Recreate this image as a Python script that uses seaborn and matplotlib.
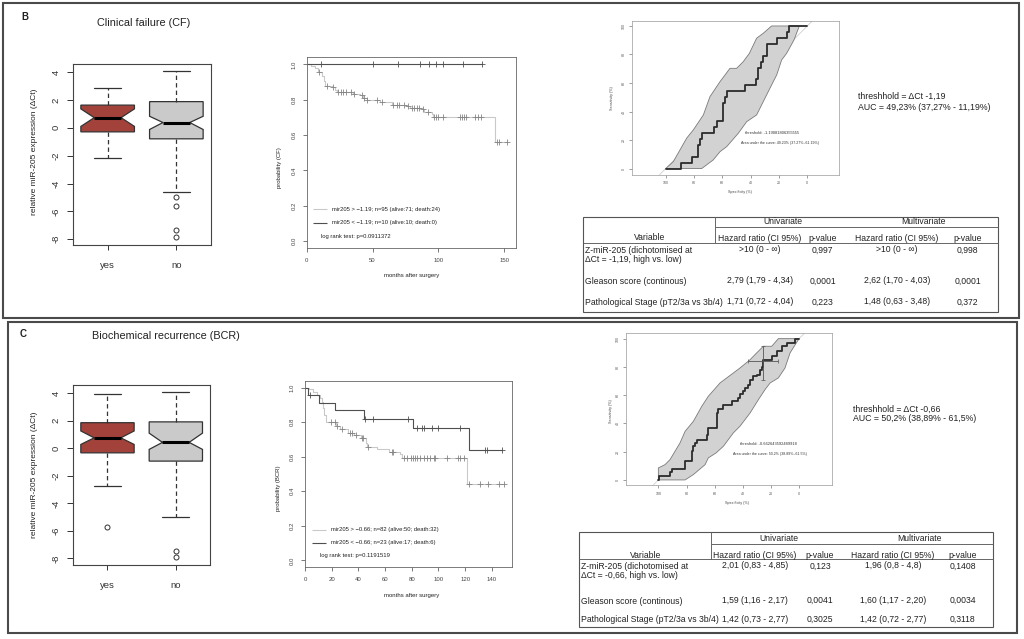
import numpy as np
import pandas as pd
import matplotlib
matplotlib.use("Agg")
import matplotlib.pyplot as plt
from matplotlib.patches import Rectangle
import seaborn as sns

# ---------------- data ----------------
box_labels = ["yes", "no"]
box_colors = ["#a3423b", "#cacaca"]

# Clinical failure boxplot statistics (relative miR-205 expression, dCt)
cf_med = [0.73, 0.38]
cf_q1 = [-0.29, -0.79]
cf_q3 = [1.63, 1.88]
cf_whislo = [-2.14, -4.60]
cf_whishi = [2.83, 4.05]
cf_cilo = [0.10, -0.12]
cf_cihi = [1.36, 0.83]
cf_fliers = [[], [-4.93, -5.62, -7.33, -7.86]]

# Biochemical recurrence boxplot statistics
bcr_med = [0.76, 0.43]
bcr_q1 = [-0.33, -0.93]
bcr_q3 = [1.86, 1.92]
bcr_whislo = [-2.72, -5.00]
bcr_whishi = [3.97, 4.07]
bcr_cilo = [0.28, -0.08]
bcr_cihi = [1.26, 1.10]
bcr_fliers = [[-5.70], [-7.43, -7.90]]

# Kaplan-Meier, clinical failure
kmb_hi_t = [0, 3.1, 6.2, 8.3, 11.4, 12.9, 13.9, 19.0, 21.5, 22.8, 34.9, 40.5, 43.1, 45.6, 55.7,
            64.6, 75.9, 78.5, 87.4, 89.4, 94.9, 96.2, 143.3]
kmb_hi_s = [1.0, 0.99, 0.977, 0.956, 0.935, 0.905, 0.88, 0.87, 0.855, 0.843, 0.833, 0.825,
            0.812, 0.80, 0.787, 0.773, 0.762, 0.755, 0.745, 0.733, 0.72, 0.705, 0.56]
kmb_hi_end = 152.4
kmb_hi_cens = [9.1, 15.2, 19.7, 24.1, 26.0, 27.9, 29.9, 33.5, 35.9, 41.7, 43.8, 46.1, 53.2,
               56.9, 65.8, 68.4, 70.3, 74.0, 77.3, 79.7, 81.5, 83.6, 85.5, 88.1, 92.5, 96.7,
               98.0, 100.0, 103.8, 116.4, 117.8, 119.5, 121.1, 127.9, 130.4, 132.2, 144.3,
               146.4, 152.4]
kmb_lo_t = [0]
kmb_lo_s = [1.0]
kmb_lo_end = 132.9
kmb_lo_cens = [10.6, 50.1, 69.1, 85.8, 93.2, 98.0, 103.3, 119.0, 132.9]

# Kaplan-Meier, biochemical recurrence
kmc_hi_t = [0, 3, 6, 9, 11, 12.5, 13.5, 14.5, 16, 23, 26, 32, 37, 42, 46, 46.5, 54, 63, 71,
            72.5, 121]
kmc_hi_s = [1.0, 0.99, 0.975, 0.96, 0.94, 0.915, 0.88, 0.84, 0.80, 0.777, 0.762, 0.74, 0.725,
            0.71, 0.68, 0.658, 0.646, 0.627, 0.613, 0.59, 0.443]
kmc_hi_end = 149.0
kmc_hi_cens = [19.5, 22.5, 23.8, 27.5, 33.8, 35.0, 38.0, 42.5, 43.8, 47.5, 65.0, 66.3, 73.8,
               76.3, 79.3, 80.8, 82.5, 83.8, 85.8, 88.8, 91.3, 93.8, 96.3, 97.5, 106.3, 114.3,
               116.3, 119.3, 122.5, 131.3, 137.0, 145.5, 149.0]
kmc_lo_t = [0, 2.5, 10.5, 22.5, 44, 80.7, 123]
kmc_lo_s = [1.0, 0.957, 0.913, 0.87, 0.82, 0.768, 0.64]
kmc_lo_end = 147.5
kmc_lo_cens = [4.0, 45.0, 51.3, 77.5, 83.8, 88.0, 88.8, 95.0, 100.0, 116.3, 135.0, 136.3, 147.5]

# ROC, clinical failure (specificity / sensitivity, %)
rocb_spec = [100, 89.4, 81.6, 77.0, 75.8, 74.6, 65.9, 64.0, 59.3, 58.1, 56.5, 44.0, 36.2, 34.6,
             32.9, 31.0, 28.7, 21.6, 14.6, 12.7, 0]
rocb_sens = [0, 4.2, 8.3, 16.7, 20.8, 25.0, 29.2, 33.3, 45.8, 50.0, 54.2, 58.3, 62.5, 70.8,
             75.0, 79.2, 87.5, 91.7, 95.8, 100, 100]
rocb_up_spec = [100, 94.6, 85.2, 80.5, 73.4, 68.7, 61.6, 54.6, 49.9, 45.2, 40.9, 35.8, 31.1, 25.2, 5.6]
rocb_up_sens = [0, 4.9, 21.3, 27.1, 37.6, 50.5, 61.0, 70.3, 70.3, 75.0, 80.8, 91.4, 94.9, 100, 100]
rocb_lo_spec = [5.6, 9.4, 14.6, 18.1, 21.6, 26.4, 35.8, 42.8, 48.7, 56.9, 61.6, 66.4, 74.6, 100]
rocb_lo_sens = [100, 90.2, 80.8, 76.2, 65.7, 56.3, 37.6, 32.9, 24.8, 15.4, 11.9, 6.1, 0, 0]

# ROC, biochemical recurrence
rocc_spec = [100, 99.3, 91.7, 90.0, 81.0, 76.3, 75.1, 73.9, 72.7, 65.6, 64.5, 58.5, 57.3, 53.8,
             47.9, 43.1, 41.9, 39.6, 38.4, 36.0, 34.8, 32.5, 30.1, 27.7, 26.1, 25.4, 19.4,
             15.9, 12.3, 8.8, 2.8, 0]
rocc_sens = [0, 2.6, 5.4, 8.0, 13.2, 20.8, 23.8, 26.0, 28.5, 32.0, 36.8, 47.4, 50.5, 52.8,
             55.7, 58.0, 60.8, 62.7, 65.0, 67.5, 71.0, 73.3, 74.5, 78.0, 79.7, 84.9, 87.5,
             91.0, 94.6, 97.0, 100, 100]
rocc_up_spec = [100, 100, 95.3, 91.7, 84.6, 81.0, 75.1, 69.2, 64.5, 56.2, 51.4, 42.0, 34.8,
                31.3, 25.4, 19.4, 14.7, 0]
rocc_up_sens = [0, 8.5, 10.8, 14.4, 26.2, 34.4, 41.5, 52.0, 59.2, 68.6, 72.2, 79.2, 85.1,
                88.7, 94.6, 94.6, 100, 100]
rocc_lo_spec = [0, 6.4, 10.0, 14.7, 20.6, 24.2, 28.9, 34.8, 42.0, 46.7, 53.8, 59.0, 64.5,
                66.8, 75.1, 81.0, 100]
rocc_lo_sens = [100, 89.9, 79.2, 72.2, 68.6, 63.9, 56.8, 47.4, 38.0, 33.3, 23.8, 19.1, 15.6,
                10.8, 3.8, 0, 0]
rocc_thr = [25.4, 84.4]
rocc_thr_spec_ci = [36.0, 14.7]
rocc_thr_sens_ci = [71.0, 94.6]

# Tables
tbl_head_groups = ["Univariate", "Multivariate"]
tbl_head_cols = ["Hazard ratio (CI 95%)", "p-value", "Hazard ratio (CI 95%)", "p-value"]
tblB_var = [["Z-miR-205 (dichotomised at", "\u0394Ct = -1,19, high vs. low)"],
            ["Gleason score (continous)"], ["Pathological Stage (pT2/3a vs 3b/4)"]]
tblB_hr_uni = [">10 (0 - \u221e)", "2,79 (1,79 - 4,34)", "1,71 (0,72 - 4,04)"]
tblB_p_uni = ["0,997", "0,0001", "0,223"]
tblB_hr_multi = [">10 (0 - \u221e)", "2,62 (1,70 - 4,03)", "1,48 (0,63 - 3,48)"]
tblB_p_multi = ["0,998", "0,0001", "0,372"]
tblC_var = [["Z-miR-205 (dichotomised at", "\u0394Ct = -0,66, high vs. low)"],
            ["Gleason score (continous)"], ["Pathological Stage (pT2/3a vs 3b/4)"]]
tblC_hr_uni = ["2,01 (0,83 - 4,85)", "1,59 (1,16 - 2,17)", "1,42 (0,73 - 2,77)"]
tblC_p_uni = ["0,123", "0,0041", "0,3025"]
tblC_hr_multi = ["1,96 (0,8 - 4,8)", "1,60 (1,17 - 2,20)", "1,42 (0,72 - 2,77)"]
tblC_p_multi = ["0,1408", "0,0034", "0,3118"]

# ---------------- style ----------------
sns.set_theme(style="white")
plt.rcParams["font.family"] = ["Liberation Sans", "DejaVu Sans"]
plt.rcParams["axes.unicode_minus"] = False

W, H = 1024, 639
fig = plt.figure(figsize=(W / 100, H / 100), dpi=100)
fig.patch.set_facecolor("white")


def add_ax(l, t, r, b):
    return fig.add_axes([l / W, 1 - b / H, (r - l) / W, (b - t) / H])


def style_spines(ax, color, lw):
    for sp in ax.spines.values():
        sp.set_visible(True)
        sp.set_color(color)
        sp.set_linewidth(lw)


def draw_box(ax, med, q1, q3, lo, hi, cilo, cihi, fliers, ylim):
    stats = [dict(med=med[i], q1=q1[i], q3=q3[i], whislo=lo[i], whishi=hi[i],
                  cilo=cilo[i], cihi=cihi[i], fliers=fliers[i], label=box_labels[i])
             for i in range(len(box_labels))]
    bp = ax.bxp(stats, positions=[1, 2], widths=0.78, patch_artist=True, shownotches=True,
                boxprops=dict(edgecolor="#333333", linewidth=0.9),
                medianprops=dict(color="black", linewidth=2.2),
                whiskerprops=dict(color="#333333", linewidth=0.9, linestyle=(0, (3.5, 2.5))),
                capprops=dict(color="#333333", linewidth=0.9),
                flierprops=dict(marker="o", markerfacecolor="none", markeredgecolor="#333333",
                                markersize=3.6, markeredgewidth=0.7))
    for patch, c in zip(bp["boxes"], box_colors):
        patch.set_facecolor(c)
    ax.set_xlim(0.5, 2.5)
    ax.set_ylim(*ylim)
    ax.set_yticks([-8, -6, -4, -2, 0, 2, 4])
    ax.set_yticklabels(["-8", "-6", "-4", "-2", "0", "2", "4"], rotation=90, va="center")
    ax.set_xticks([1, 2])
    ax.set_xticklabels(box_labels)
    ax.tick_params(axis="y", length=4, width=0.7, pad=5, labelsize=6.8, colors="#333333", left=True)
    ax.tick_params(axis="x", length=3.6, width=0.7, pad=8, labelsize=6.8, colors="#333333", bottom=True)
    style_spines(ax, "#444444", 0.8)
    ax.set_facecolor("white")


def step_at(times, surv, t):
    idx = np.searchsorted(np.asarray(times), t, side="right") - 1
    return np.asarray(surv)[idx]


def draw_km(ax, groups, xlim, ylim, xticks):
    for t, s, end, cens, lc, mc in groups:
        df = pd.DataFrame({"t": list(t) + [end], "s": list(s) + [s[-1]]})
        sns.lineplot(data=df, x="t", y="s", ax=ax, color=lc, linewidth=0.8,
                     drawstyle="steps-post", estimator=None, sort=False, legend=False)
        cy = [step_at(t, s, c) for c in cens]
        sns.scatterplot(x=cens, y=cy, ax=ax, marker="+", color=mc, s=14, linewidth=0.6,
                        legend=False, zorder=3)
    ax.set_xlim(*xlim)
    ax.set_ylim(*ylim)
    ax.set_xticks(xticks)
    ax.set_xticklabels([str(v) for v in xticks])
    yt = [0, 0.2, 0.4, 0.6, 0.8, 1.0]
    ax.set_yticks(yt)
    ax.set_yticklabels(["%.1f" % v for v in yt], rotation=90, va="center")
    ax.tick_params(axis="y", length=3, width=0.5, pad=4.5, labelsize=4.3, colors="#444444", left=True)
    ax.tick_params(axis="x", length=3, width=0.5, pad=4, labelsize=4.3, colors="#444444", bottom=True)
    ax.set_xlabel("")
    ax.set_ylabel("")
    style_spines(ax, "#666666", 0.6)
    ax.set_facecolor("white")


def draw_roc(ax, spec, sens, up_s, up_v, lo_s, lo_v, xlim, ylim):
    poly_x = list(up_s) + list(lo_s)
    poly_y = list(up_v) + list(lo_v)
    ax.fill(poly_x, poly_y, facecolor="#d2d2d2", edgecolor="#7a7a7a", linewidth=0.6, zorder=1)
    ax.axline((100, 0), (0, 100), color="#cfcfcf", linewidth=0.6, zorder=0.5)
    sns.lineplot(x=spec, y=sens, ax=ax, color="#2b2b2b", linewidth=1.3,
                 drawstyle="steps-post", estimator=None, sort=False, legend=False, zorder=3)
    ax.set_xlim(*xlim)
    ax.set_ylim(*ylim)
    ticks = [100, 80, 60, 40, 20, 0]
    ax.set_xticks(ticks)
    ax.set_xticklabels([str(v) for v in ticks])
    yt = [0, 20, 40, 60, 80, 100]
    ax.set_yticks(yt)
    ax.set_yticklabels([str(v) for v in yt], rotation=90, va="center")
    ax.tick_params(axis="both", length=2, width=0.4, pad=2.5, labelsize=2.6, colors="#555555",
                   left=True, bottom=True)
    ax.set_xlabel("")
    ax.set_ylabel("")
    style_spines(ax, "#9a9a9a", 0.5)
    ax.set_facecolor("white")


# ---------------- boxplots ----------------
axb = add_ax(73.3, 64.0, 210.7, 245.3)
draw_box(axb, cf_med, cf_q1, cf_q3, cf_whislo, cf_whishi, cf_cilo, cf_cihi, cf_fliers,
         (-8.43, 4.58))
axc = add_ax(73.3, 384.7, 210.0, 565.3)
draw_box(axc, bcr_med, bcr_q1, bcr_q3, bcr_whislo, bcr_whishi, bcr_cilo, bcr_cihi, bcr_fliers,
         (-8.5, 4.62))

# ---------------- Kaplan-Meier ----------------
km_light, km_light_m, km_dark = "#c9c9c9", "#858585", "#4f4f4f"
akb = add_ax(306.7, 57.3, 516.0, 248.3)
draw_km(akb, [(kmb_hi_t, kmb_hi_s, kmb_hi_end, kmb_hi_cens, km_light, km_light_m),
              (kmb_lo_t, kmb_lo_s, kmb_lo_end, kmb_lo_cens, km_dark, km_dark)],
        (0, 159), (-0.04, 1.04), [0, 50, 100, 150])
akc = add_ax(305.0, 380.7, 512.3, 567.3)
draw_km(akc, [(kmc_hi_t, kmc_hi_s, kmc_hi_end, kmc_hi_cens, km_light, km_light_m),
              (kmc_lo_t, kmc_lo_s, kmc_lo_end, kmc_lo_cens, km_dark, km_dark)],
        (0, 155.3), (-0.04, 1.04), [0, 20, 40, 60, 80, 100, 120, 140])

# ---------------- ROC ----------------
arb = add_ax(631.7, 20.7, 839.3, 175.0)
draw_roc(arb, rocb_spec, rocb_sens, rocb_up_spec, rocb_up_sens, rocb_lo_spec, rocb_lo_sens,
         (124, -22.6), (-4.5, 103.7))
arc = add_ax(626.0, 332.7, 831.7, 485.3)
draw_roc(arc, rocc_spec, rocc_sens, rocc_up_spec, rocc_up_sens, rocc_lo_spec, rocc_lo_sens,
         (123, -23.2), (-3.8, 104.2))
arc.errorbar([rocc_thr[0]], [rocc_thr[1]],
             xerr=[[rocc_thr_spec_ci[0] - rocc_thr[0]], [rocc_thr[0] - rocc_thr_spec_ci[1]]],
             yerr=[[rocc_thr[1] - rocc_thr_sens_ci[0]], [rocc_thr_sens_ci[1] - rocc_thr[1]]],
             fmt="none", ecolor="#555555", elinewidth=0.6, capsize=1.2, capthick=0.5, zorder=4)

# ---------------- overlay canvas (borders, texts, tables) ----------------
cv = fig.add_axes([0, 0, 1, 1], zorder=10)
cv.set_xlim(0, W)
cv.set_ylim(H, 0)
cv.axis("off")
cv.patch.set_alpha(0)

TXT = "#222222"


def T(x, y, s, size, ha="left", va="center", **kw):
    cv.text(x, y, s, fontsize=size, ha=ha, va=va, color=kw.pop("color", TXT), **kw)


def L(x1, y1, x2, y2, lw=0.7, c="#666666"):
    cv.plot([x1, x2], [y1, y2], color=c, linewidth=lw, solid_capstyle="butt")


# panel borders
cv.add_patch(Rectangle((3, 3), 1015.7, 315, fill=False, lw=1.5, ec="#4a4a4a"))
cv.add_patch(Rectangle((8, 322.3), 1008.7, 311, fill=False, lw=1.5, ec="#4a4a4a"))

# panel letters and titles
T(25, 17, "B", 7, ha="center", weight="bold")
T(143.3, 22.7, "Clinical failure (CF)", 7.8, ha="center")
T(23.3, 334, "C", 7, ha="center", weight="bold")
T(165.7, 336.3, "Biochemical recurrence (BCR)", 7.8, ha="center")

# boxplot y labels
T(34.3, 152, "relative miR-205 expression (\u0394Ct)", 6.0, ha="center", rotation=90)
T(34.3, 474.7, "relative miR-205 expression (\u0394Ct)", 6.0, ha="center", rotation=90)

# KM labels and legends
T(280.0, 168.0, "probability (CF)", 4.3, ha="center", rotation=90)
T(411.7, 276.0, "months after surgery", 4.3, ha="center")
L(313.3, 209.3, 327.0, 209.3, 0.8, km_light)
L(313.3, 222.7, 327.0, 222.7, 0.8, km_dark)
T(332.5, 209.3, "mir205 > \u22121.19; n=95 (alive:71; death:24)", 4.2)
T(332.5, 222.7, "mir205 < \u22121.19; n=10 (alive:10; death:0)", 4.2)
T(321.0, 236.3, "log rank test: p=0.0911372", 4.2)

T(278.3, 488.0, "probability (BCR)", 4.3, ha="center", rotation=90)
T(411.7, 595.0, "months after surgery", 4.3, ha="center")
L(312.0, 530.0, 326.0, 530.0, 0.8, km_light)
L(312.0, 542.7, 326.0, 542.7, 0.8, km_dark)
T(331.0, 530.0, "mir205 > \u22120.66; n=82 (alive:50; death:32)", 4.2)
T(331.0, 542.7, "mir205 < \u22120.66; n=23 (alive:17; death:6)", 4.2)
T(320.0, 556.0, "log rank test: p=0.1191519", 4.2)

# ROC labels
T(740.0, 192.0, "Specificity (%)", 2.7, ha="center", color="#444444")
T(611.7, 98.3, "Sensitivity (%)", 2.7, ha="center", rotation=90, color="#444444")
T(772.0, 132.7, "threshold: -1.19081806355555", 2.9, ha="center", color="#333333")
T(780.3, 142.7, "Area under the curve: 49.23% (37.27%\u201361.19%)", 2.6, ha="center", color="#333333")
T(858.3, 96.7, "threshhold = \u0394Ct -1,19", 6.3)
T(858.3, 107.3, "AUC = 49,23% (37,27% - 11,19%)", 6.3)

T(736.7, 503.0, "Specificity (%)", 2.7, ha="center", color="#444444")
T(610.7, 411.3, "Sensitivity (%)", 2.7, ha="center", rotation=90, color="#444444")
T(768.3, 444.0, "threshold: -0.662643592489918", 2.9, ha="center", color="#333333")
T(770.0, 454.0, "Area under the curve: 50.2% (38.89%\u201361.5%)", 2.6, ha="center", color="#333333")
T(853.3, 409.7, "threshhold = \u0394Ct -0,66", 6.3)
T(853.3, 418.7, "AUC = 50,2% (38,89% - 61,5%)", 6.3)


# tables
def draw_table(box, vline_x, sub_y, head_y, grp_x, grp_y, varx, var_y, col_x, col_y,
               var_rows, row_y, cols):
    l, t, r, b = box
    cv.add_patch(Rectangle((l, t), r - l, b - t, fill=False, lw=0.8, ec="#555555"))
    L(vline_x, t, vline_x, head_y)
    L(vline_x, sub_y, r, sub_y)
    L(l, head_y, r, head_y)
    for gx, g in zip(grp_x, tbl_head_groups):
        T(gx, grp_y, g, 6.2, ha="center")
    T(varx, var_y, "Variable", 6.2, ha="center")
    for cx, h in zip(col_x, tbl_head_cols):
        T(cx, col_y, h, 6.2, ha="center")
    for i, lines in enumerate(var_rows):
        y0 = row_y[i]
        for j, ln in enumerate(lines):
            T(l + 2, y0 + j * 9.3, ln, 6.2)
        for cx, col in zip(col_x, cols):
            T(cx, y0 - 0.8, col[i], 6.2, ha="center")


draw_table((583.0, 216.7, 998.3, 312.3), 715.0, 226.7, 243.3, [783.0, 923.0], 222.0,
           650.0, 237.5, [760.0, 822.7, 897.0, 967.7], 238.5,
           tblB_var, [250.7, 281.7, 302.7],
           [tblB_hr_uni, tblB_p_uni, tblB_hr_multi, tblB_p_multi])
draw_table((579.3, 531.7, 992.7, 626.7), 711.0, 544.3, 559.3, [779.0, 920.0], 538.5,
           645.7, 555.0, [755.0, 820.0, 893.0, 962.7], 556.0,
           tblC_var, [566.7, 601.0, 620.0],
           [tblC_hr_uni, tblC_p_uni, tblC_hr_multi, tblC_p_multi])

fig.savefig("out.png", dpi=100, facecolor="white")
